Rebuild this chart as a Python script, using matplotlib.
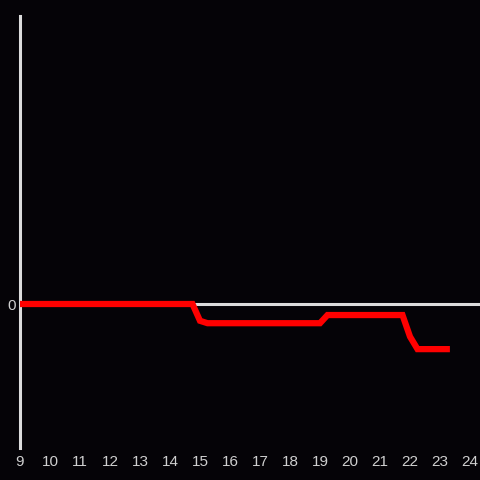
import matplotlib
matplotlib.use('Agg')
import matplotlib.pyplot as plt

# --- data (hours of day, value) ---
hours = [9.0, 14.75, 15.0, 15.25, 19.0, 19.25, 21.75, 22.0, 22.25, 23.33]
values = [0.0, 0.0, -0.35, -0.4, -0.4, -0.23, -0.23, -0.68, -0.94, -0.94]
xticks = list(range(9, 25))

BG = '#050307'
AXIS = '#dcdcdc'
TEXT = '#cfcfcf'

plt.rcParams['font.family'] = ['Liberation Sans', 'DejaVu Sans']

fig = plt.figure(figsize=(4.8, 4.8), dpi=100, facecolor=BG)
ax = fig.add_axes([20 / 480, 32 / 480, 460 / 480, 432 / 480])
ax.set_facecolor(BG)

# zero line
ax.axhline(0, color=AXIS, linewidth=2.2, zorder=1)
ax.plot(hours, values, color='#ff0000', linewidth=4.5, solid_joinstyle='miter',
        solid_capstyle='butt', zorder=3)

ax.set_xlim(9, 9 + 460 / 30)
ax.set_ylim(-3, 6)

for side in ['top', 'right', 'bottom']:
    ax.spines[side].set_visible(False)
ax.spines['left'].set_color(AXIS)
ax.spines['left'].set_linewidth(2.2)

ax.set_xticks(xticks)
ax.set_xticklabels([str(h) for h in xticks])
ax.set_yticks([0])
ax.set_yticklabels(['0'])
ax.tick_params(axis='both', length=0, colors=TEXT, labelsize=11)
ax.tick_params(axis='x', pad=5)
ax.tick_params(axis='y', pad=3)

fig.savefig('out.png', dpi=100, facecolor=BG)
